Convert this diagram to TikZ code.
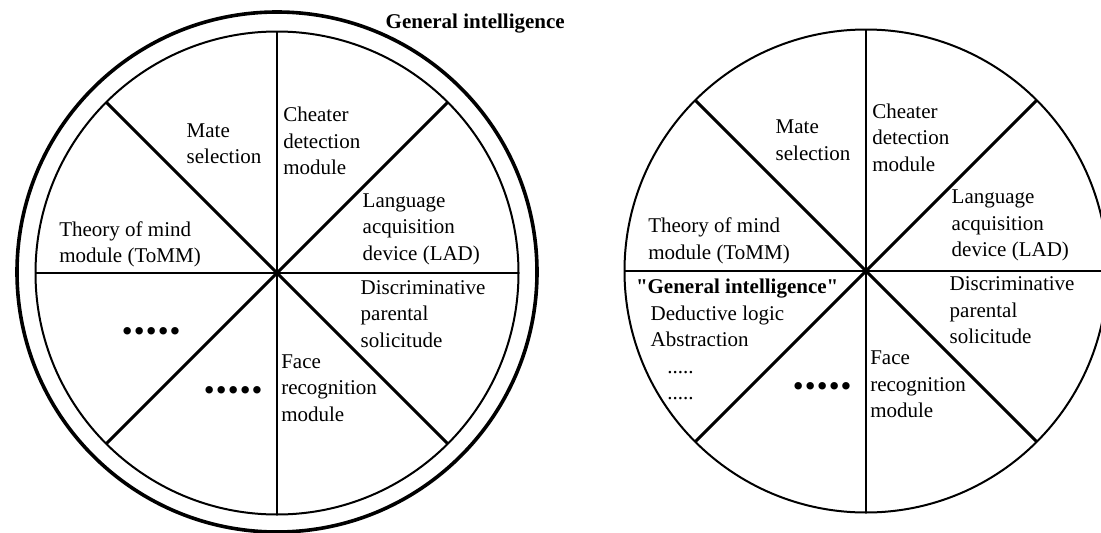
\documentclass[tikz,border=0pt]{standalone}
\usepackage{fontspec}
\setmainfont{Liberation Serif}[Ligatures=TeXOff]
\newcommand{\bdots}{\textbullet\kern1.1pt\textbullet\kern1.1pt\textbullet\kern1.1pt\textbullet\kern1.1pt\textbullet}
\begin{document}
\begin{tikzpicture}[x=1pt,y=-1pt,
  lbl/.style={anchor=base west, inner sep=0pt, outer sep=0pt, font=\fontsize{21pt}{26.5pt}\selectfont},
  boldlbl/.style={lbl, font=\fontsize{21pt}{26.5pt}\selectfont\bfseries},
  bul/.style={anchor=center, inner sep=0pt, outer sep=0pt, font=\fontsize{31pt}{31pt}\selectfont},
  wheel/.style={circle, draw, inner sep=0pt, outer sep=0pt, minimum size=483pt, line width=2pt},
  spoke/.style={line width=2.2pt},
  diag/.style={line width=3pt}]
\useasboundingbox (0,0) rectangle (1101,533);
\clip (0,0) rectangle (1101,533);

% ---------------- left wheel ----------------
\node[wheel, minimum size=520pt, line width=3.6pt] (Lout) at (277,272) {};
\node[wheel] (L) at (277,273) {};
\draw[diag] (L.45) -- (L.225);
\draw[diag] (L.135) -- (L.315);
\draw[spoke] (L.90) -- (L.270);
\draw[spoke] (L.180) -- (L.0);

\node[boldlbl] (gi) at (385.7,28.3) {General intelligence};
\node[lbl] (lmate) at (186.7,137.3) {\vtop{\hbox{Mate}\hbox{selection}}};
\node[lbl] (lcheat) at (283.3,121.7) {\vtop{\hbox{Cheater}\hbox{detection}\hbox{module}}};
\node[lbl] (llad) at (362.7,207.3) {\vtop{\hbox{Language}\hbox{acquisition}\hbox{device (LAD)}}};
\node[lbl] (ltomm) at (59.3,236) {\vtop{\hbox{Theory of mind}\hbox{module (ToMM)}}};
\node[lbl] (ldisc) at (360.7,294.3) {\vtop{\hbox{Discriminative}\hbox{parental}\hbox{solicitude}}};
\node[lbl] (lface) at (281.3,368.3) {\vtop{\hbox{Face}\hbox{recognition}\hbox{module}}};
\node[bul] (ldots1) at (151.3,334.3) {\bdots};
\node[bul] (ldots2) at (233.3,394) {\bdots};

% ---------------- right wheel ----------------
\node[wheel] (R) at (866,271) {};
\draw[diag] (R.45) -- (R.225);
\draw[diag] (R.135) -- (R.315);
\draw[spoke] (R.90) -- (R.270);
\draw[spoke] (R.180) -- (R.0);

\node[lbl] (rmate) at (775.7,133.8) {\vtop{\hbox{Mate}\hbox{selection}}};
\node[lbl] (rcheat) at (872.3,118.2) {\vtop{\hbox{Cheater}\hbox{detection}\hbox{module}}};
\node[lbl] (rlad) at (951.7,203.8) {\vtop{\hbox{Language}\hbox{acquisition}\hbox{device (LAD)}}};
\node[lbl] (rtomm) at (648.3,232.5) {\vtop{\hbox{Theory of mind}\hbox{module (ToMM)}}};
\node[lbl] (rdisc) at (949.7,290.8) {\vtop{\hbox{Discriminative}\hbox{parental}\hbox{solicitude}}};
\node[lbl] (rface) at (870.3,364.8) {\vtop{\hbox{Face}\hbox{recognition}\hbox{module}}};
\node[bul] (rdots) at (822.3,389.5) {\bdots};
\node[boldlbl] (rgi) at (636,293.3) {"General intelligence"};
\node[lbl] (rgilist) at (650.7,320) {\vtop{\hbox{Deductive logic}\hbox{Abstraction}\hbox{\hspace{16.6pt}.....}\hbox{\hspace{16.6pt}.....}}};
\end{tikzpicture}
\end{document}
